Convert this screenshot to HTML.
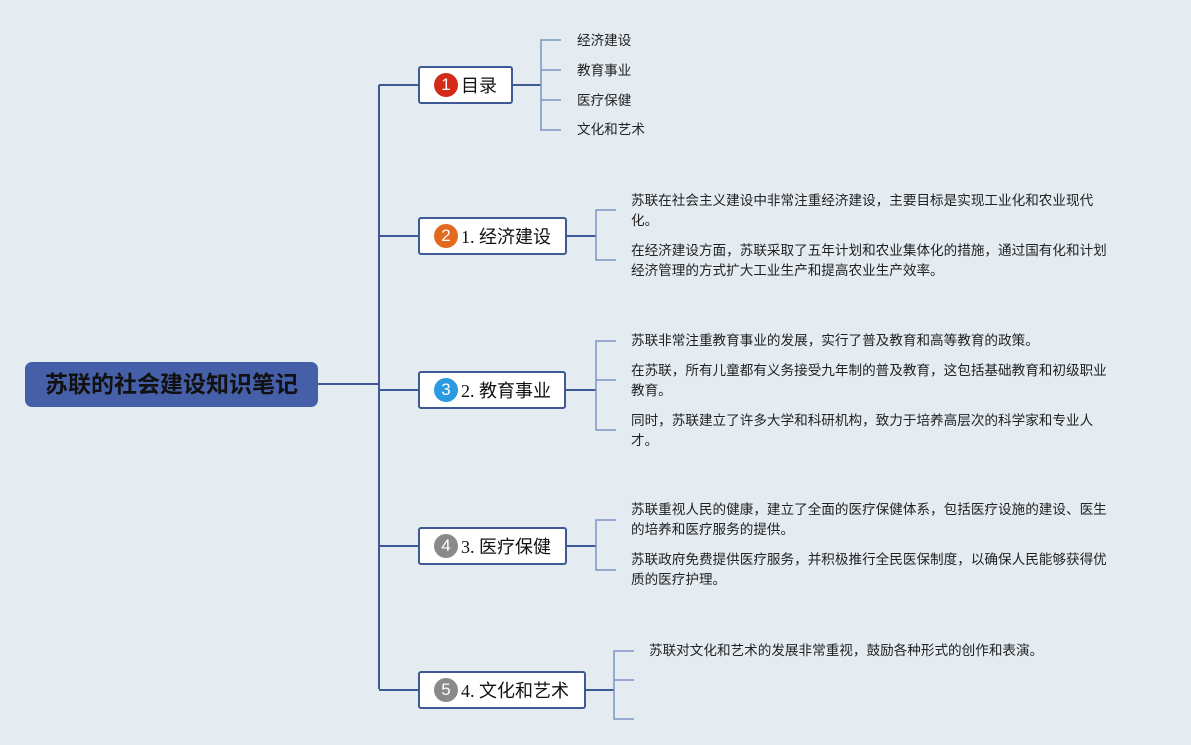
<!DOCTYPE html>
<html><head><meta charset="utf-8"><style>
body{margin:0;width:1191px;height:745px;background:#e4ecf2;position:relative;overflow:hidden;font-family:"Liberation Sans","Noto Sans CJK SC",sans-serif;}
.root{position:absolute;left:25px;top:362px;width:293px;height:45px;background:#4560a8;border-radius:7px;color:#111;font-weight:bold;font-size:23px;line-height:45px;text-align:center;}
.b{position:absolute;left:418px;height:34px;border:2px solid #3f5896;border-radius:3px;background:#fff;font-size:18px;box-sizing:content-box;color:#111;white-space:nowrap;display:flex;align-items:center;font-family:"Liberation Serif","Noto Sans CJK SC",sans-serif}
.n{display:inline-block;width:24px;height:24px;border-radius:50%;color:#fff;font-size:17px;line-height:24px;text-align:center;margin:0 3px 0 14px;font-family:"Liberation Sans",sans-serif;flex:none}
.t{position:absolute;font-size:13.6px;color:#222;line-height:20px;white-space:nowrap}
</style></head><body>
<svg width="1191" height="745" style="position:absolute;left:0;top:0">
<g stroke="#3f5896" stroke-width="2" fill="none">
<path d="M318 384H379M379 85V689M379 85H418M379 236H418M379 390H418M379 546H418M379 690H418"/>
<path d="M511 85H541M565 236H596M564 390H596M565 546H596M584 690H614"/>
</g>
<g stroke="#7d93c4" stroke-width="1.5" fill="none">
<path d="M561 40H541V130H561M541 70H561M541 100H561"/>
<path d="M616 210H596V260H616"/>
<path d="M616 341H596V430H616M596 380H616"/>
<path d="M616 520H596V570H616"/>
<path d="M634 651H614V719H634M614 680H634"/>
</g>
</svg>
<div class="root">苏联的社会建设知识笔记</div>
<div class="b" style="top:66px;width:91px"><span class="n" style="background:#d32a1a">1</span>目录</div>
<div class="b" style="top:217px;width:145px"><span class="n" style="background:#e2691e">2</span>1. 经济建设</div>
<div class="b" style="top:371px;width:144px"><span class="n" style="background:#2a9be0">3</span>2. 教育事业</div>
<div class="b" style="top:527px;width:145px"><span class="n" style="background:#8a8a8a">4</span>3. 医疗保健</div>
<div class="b" style="top:671px;width:164px"><span class="n" style="background:#8a8a8a">5</span>4. 文化和艺术</div>
<div class="t" style="left:577px;top:31px">经济建设</div>
<div class="t" style="left:577px;top:61px">教育事业</div>
<div class="t" style="left:577px;top:91px">医疗保健</div>
<div class="t" style="left:577px;top:120px">文化和艺术</div>
<div class="t" style="left:631px;top:191px">苏联在社会主义建设中非常注重经济建设，主要目标是实现工业化和农业现代<br>化。</div>
<div class="t" style="left:631px;top:241px">在经济建设方面，苏联采取了五年计划和农业集体化的措施，通过国有化和计划<br>经济管理的方式扩大工业生产和提高农业生产效率。</div>
<div class="t" style="left:631px;top:331px">苏联非常注重教育事业的发展，实行了普及教育和高等教育的政策。</div>
<div class="t" style="left:631px;top:361px">在苏联，所有儿童都有义务接受九年制的普及教育，这包括基础教育和初级职业<br>教育。</div>
<div class="t" style="left:631px;top:411px">同时，苏联建立了许多大学和科研机构，致力于培养高层次的科学家和专业人<br>才。</div>
<div class="t" style="left:631px;top:500px">苏联重视人民的健康，建立了全面的医疗保健体系，包括医疗设施的建设、医生<br>的培养和医疗服务的提供。</div>
<div class="t" style="left:631px;top:550px">苏联政府免费提供医疗服务，并积极推行全民医保制度，以确保人民能够获得优<br>质的医疗护理。</div>
<div class="t" style="left:649px;top:641px">苏联对文化和艺术的发展非常重视，鼓励各种形式的创作和表演。</div>
</body></html>
